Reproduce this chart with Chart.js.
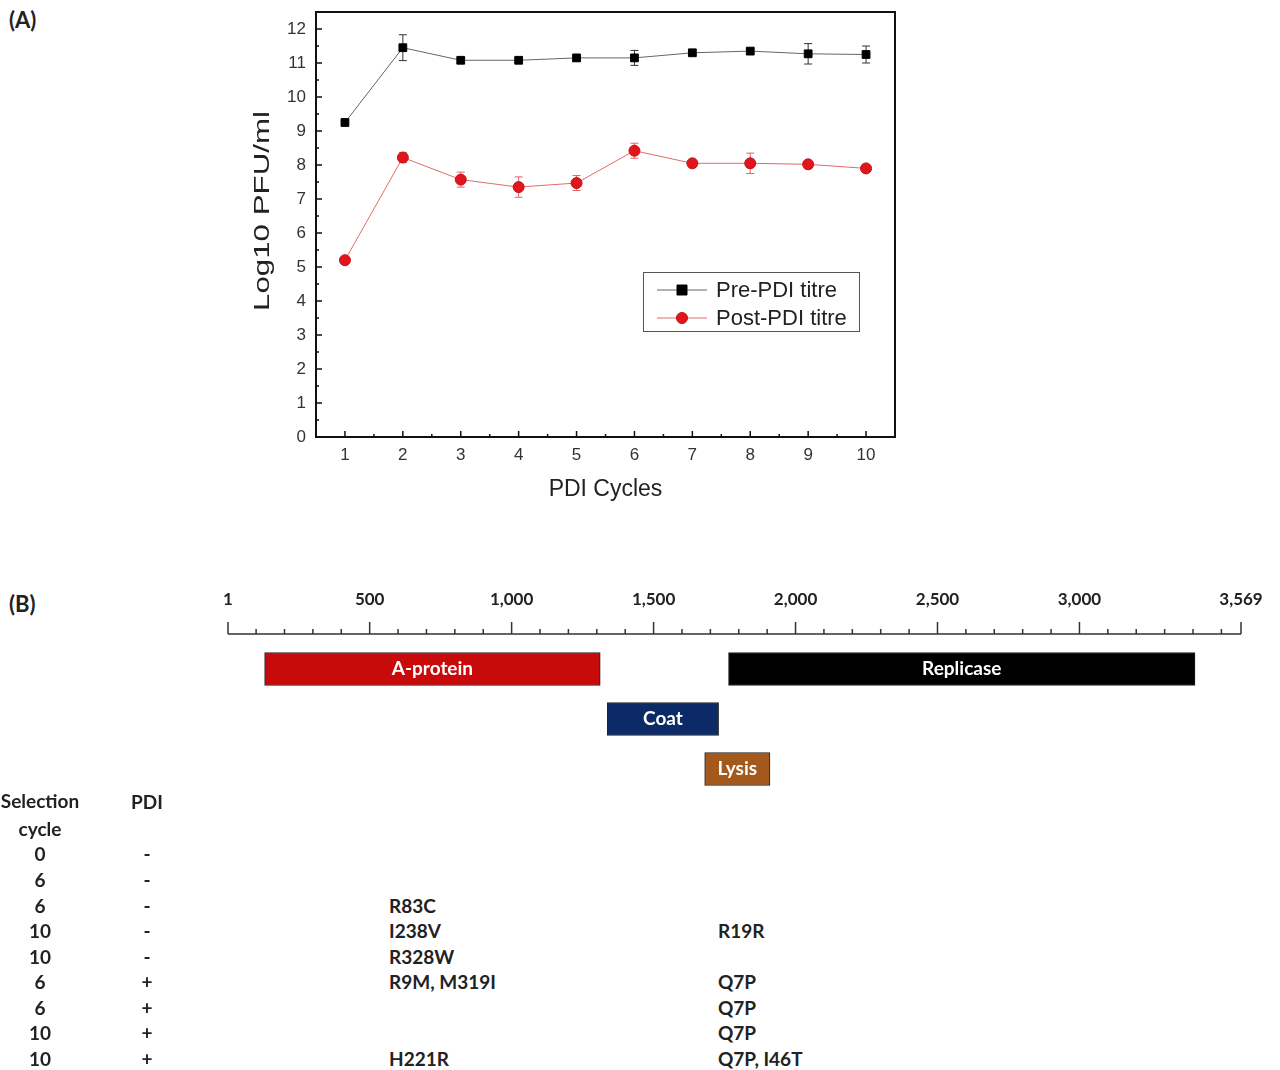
<!DOCTYPE html>
<html>
<head>
<meta charset="utf-8">
<script src="https://cdn.jsdelivr.net/npm/chart.js@4/dist/chart.umd.min.js"></script>
<style>
  body { margin: 0; background: #fff; }
  #page { position: relative; width: 1280px; height: 1070px; overflow: hidden; font-family: Lato, sans-serif; }
  canvas { position: absolute; left: 0; }
  .lbl { position: absolute; font-weight: bold; color: #222; white-space: nowrap; }
  .cell { position: absolute; font-weight: bold; font-size: 19px; color: #222; white-space: nowrap; transform: translateY(-50%); }
  .ctr { transform: translate(-50%, -50%); }
</style>
</head>
<body>
<div id="page">
  <div class="lbl" style="left:9px; top:6px; font-size:22px;">(A)</div>
  <div class="lbl" style="left:9px; top:590px; font-size:22px;">(B)</div>
  <canvas id="chartA" width="1280" height="530" style="top:0;"></canvas>
  <canvas id="chartB" width="1280" height="230" style="top:570px;"></canvas>
  <div id="table"></div>
</div>
<script>
// ---- panel A data ----
const cycles = [1, 2, 3, 4, 5, 6, 7, 8, 9, 10];
const preTitre = [9.25, 11.45, 11.08, 11.08, 11.15, 11.15, 11.3, 11.35, 11.27, 11.25];
const preErr = [0.05, 0.38, 0.08, 0.06, 0.1, 0.22, 0.08, 0.08, 0.3, 0.25];
const postTitre = [5.2, 8.22, 7.57, 7.35, 7.47, 8.42, 8.05, 8.05, 8.02, 7.9];
const postErr = [0.1, 0.15, 0.22, 0.3, 0.22, 0.22, 0.08, 0.3, 0.05, 0.08];
const yTicks = [0, 1, 2, 3, 4, 5, 6, 7, 8, 9, 10, 11, 12];
const yTitle = 'Log10 PFU/ml';

// ---- panel B data ----
const geneNames = ['A-protein', 'Coat', 'Lysis', 'Replicase'];
const geneStart = [130, 1337, 1680, 1764];
const geneEnd = [1312, 1729, 1910, 3407];
const geneRow = [0, 1, 2, 0];
const geneColors = ['#c80a0a', '#0b2a66', '#a3581c', '#000000'];
const rulerTicks = [1, 100, 200, 300, 400, 500, 600, 700, 800, 900, 1000, 1100, 1200, 1300, 1400, 1500,
  1600, 1700, 1800, 1900, 2000, 2100, 2200, 2300, 2400, 2500, 2600, 2700, 2800, 2900, 3000,
  3100, 3200, 3300, 3400, 3500, 3569];
const rulerLabelled = [1, 500, 1000, 1500, 2000, 2500, 3000, 3569];

// ---- table data ----
const selCycle = ['0', '6', '6', '10', '10', '6', '6', '10', '10'];
const pdiSign = ['-', '-', '-', '-', '-', '+', '+', '+', '+'];
const aProteinMut = ['', '', 'R83C', 'I238V', 'R328W', 'R9M, M319I', '', '', 'H221R'];
const replicaseMut = ['', '', '', 'R19R', '', 'Q7P', 'Q7P', 'Q7P', 'Q7P, I46T'];

const errs = [preErr, postErr];
const arial = '"Liberation Sans", Arial, sans-serif';

// frame, inward ticks, error bars, y title and legend for panel A
const panelAPlugin = {
  id: 'panelA',
  beforeDatasetsDraw(chart) {
    const ctx = chart.ctx;
    const xs = chart.scales.x, ys = chart.scales.y;
    chart.data.datasets.forEach((ds, i) => {
      ctx.save();
      ctx.strokeStyle = ds.errColor;
      ctx.lineWidth = 1;
      ds.data.forEach((pt, j) => {
        const e = errs[i][j];
        const px = xs.getPixelForValue(pt.x);
        const top = ys.getPixelForValue(pt.y + e), bot = ys.getPixelForValue(pt.y - e);
        ctx.beginPath();
        ctx.moveTo(px, top); ctx.lineTo(px, bot);
        ctx.moveTo(px - 4, top); ctx.lineTo(px + 4, top);
        ctx.moveTo(px - 4, bot); ctx.lineTo(px + 4, bot);
        ctx.stroke();
      });
      ctx.restore();
    });
  },
  afterDraw(chart) {
    const ctx = chart.ctx;
    const a = chart.chartArea;
    const xs = chart.scales.x, ys = chart.scales.y;
    ctx.save();
    ctx.strokeStyle = '#111';
    ctx.lineWidth = 2;
    ctx.strokeRect(a.left, a.top, a.right - a.left, a.bottom - a.top);
    ctx.lineWidth = 1.5;
    ctx.beginPath();
    yTicks.forEach(t => {
      const py = ys.getPixelForValue(t);
      ctx.moveTo(a.left, py); ctx.lineTo(a.left + 6, py);
      if (t < 12) {
        const pm = ys.getPixelForValue(t + 0.5);
        ctx.moveTo(a.left, pm); ctx.lineTo(a.left + 3, pm);
      }
    });
    cycles.forEach(c => {
      const px = xs.getPixelForValue(c);
      ctx.moveTo(px, a.bottom); ctx.lineTo(px, a.bottom - 6);
      if (c < 10) {
        const pm = xs.getPixelForValue(c + 0.5);
        ctx.moveTo(pm, a.bottom); ctx.lineTo(pm, a.bottom - 3);
      }
    });
    ctx.stroke();

    // y axis title, slightly stretched like the original
    ctx.save();
    ctx.translate(a.left - 53, 211);
    ctx.rotate(-Math.PI / 2);
    ctx.font = '22px ' + arial;
    const w = ctx.measureText(yTitle).width;
    ctx.scale(200 / w, 1);
    ctx.fillStyle = '#222';
    ctx.textAlign = 'center';
    ctx.textBaseline = 'middle';
    ctx.fillText(yTitle, 0, 0);
    ctx.restore();

    // legend box
    const lx = a.right - 252, ly = a.top + 260, lw = 216, lh = 59;
    ctx.fillStyle = '#fff';
    ctx.fillRect(lx, ly, lw, lh);
    ctx.strokeStyle = '#555';
    ctx.lineWidth = 1;
    ctx.strokeRect(lx + 0.5, ly + 0.5, lw, lh);
    chart.data.datasets.forEach((ds, i) => {
      const yy = ly + 18 + i * 28;
      ctx.strokeStyle = ds.borderColor;
      ctx.lineWidth = 1;
      ctx.beginPath();
      ctx.moveTo(lx + 14, yy); ctx.lineTo(lx + 64, yy);
      ctx.stroke();
      ctx.fillStyle = ds.pointBackgroundColor;
      ctx.strokeStyle = ds.pointBorderColor;
      ctx.beginPath();
      if (ds.pointStyle === 'rect') {
        ctx.rect(lx + 34, yy - 5, 10, 10);
      } else {
        ctx.arc(lx + 39, yy, 5.5, 0, Math.PI * 2);
      }
      ctx.fill(); ctx.stroke();
      ctx.fillStyle = '#222';
      ctx.font = '22px ' + arial;
      ctx.textBaseline = 'middle';
      ctx.fillText(ds.label, lx + 73, yy + 1);
    });
    ctx.restore();
  }
};

new Chart(document.getElementById('chartA'), {
  type: 'line',
  data: {
    datasets: [
      {
        label: 'Pre-PDI titre',
        data: preTitre.map((v, i) => ({ x: cycles[i], y: v })),
        borderColor: '#666',
        borderWidth: 1,
        pointStyle: 'rect',
        pointRadius: 5.5,
        pointBackgroundColor: '#000',
        pointBorderColor: '#000',
        pointBorderWidth: 1,
        errColor: '#333'
      },
      {
        label: 'Post-PDI titre',
        data: postTitre.map((v, i) => ({ x: cycles[i], y: v })),
        borderColor: '#e56a6a',
        borderWidth: 1,
        pointStyle: 'circle',
        pointRadius: 5.5,
        pointBackgroundColor: '#e0161c',
        pointBorderColor: '#c41016',
        pointBorderWidth: 1,
        errColor: '#e06666'
      }
    ]
  },
  options: {
    responsive: false,
    animation: false,
    layout: { padding: { left: 230, right: 385, top: 12, bottom: 23 } },
    plugins: { legend: { display: false }, tooltip: { enabled: false } },
    scales: {
      x: {
        type: 'linear',
        min: 0.5,
        max: 10.5,
        afterBuildTicks: s => { s.ticks = cycles.map(v => ({ value: v })); },
        afterFit: s => { s.height = 70; s.paddingLeft = 0; s.paddingRight = 0; },
        grid: { display: false, drawTicks: false },
        border: { display: false },
        ticks: { padding: 8, color: '#333', font: { family: arial, size: 17 } },
        title: { display: true, text: 'PDI Cycles', color: '#222', padding: { top: 0, bottom: 4 },
          font: { family: arial, size: 23 } }
      },
      y: {
        min: 0,
        max: 12.5,
        afterBuildTicks: s => { s.ticks = yTicks.map(v => ({ value: v })); },
        afterFit: s => { s.width = 86; s.paddingTop = 0; s.paddingBottom = 0; },
        grid: { display: false, drawTicks: false },
        border: { display: false },
        ticks: { padding: 10, color: '#333', font: { family: arial, size: 17 } }
      }
    }
  },
  plugins: [panelAPlugin]
});

// ---- panel B: genome map ----
const rowLabels = ['row0', 'row1', 'row2'];
const geneDatasets = geneNames.map((name, i) => ({
  label: name,
  data: rowLabels.map((r, k) => (k === geneRow[i] ? [geneStart[i], geneEnd[i]] : null)),
  backgroundColor: geneColors[i],
  borderColor: '#222',
  borderWidth: 1,
  borderSkipped: false,
  barThickness: 33,
  grouped: false
}));

const genomePlugin = {
  id: 'genome',
  afterDatasetsDraw(chart) {
    const ctx = chart.ctx;
    ctx.save();
    ctx.fillStyle = '#fff';
    ctx.font = 'bold 19px Lato, sans-serif';
    ctx.textAlign = 'center';
    ctx.textBaseline = 'middle';
    chart.data.datasets.forEach((ds, i) => {
      chart.getDatasetMeta(i).data.forEach((el, k) => {
        if (!ds.data[k]) return;
        ctx.fillText(ds.label, (el.x + el.base) / 2, el.y);
      });
    });
    ctx.restore();
  },
  afterDraw(chart) {
    const ctx = chart.ctx;
    const xs = chart.scales.x;
    const y0 = chart.chartArea.top - 10;
    ctx.save();
    ctx.strokeStyle = '#333';
    ctx.lineWidth = 1.5;
    ctx.beginPath();
    ctx.moveTo(xs.getPixelForValue(1), y0);
    ctx.lineTo(xs.getPixelForValue(3569), y0);
    rulerTicks.forEach(t => {
      const px = xs.getPixelForValue(t);
      const len = rulerLabelled.includes(t) ? 12 : 5;
      ctx.moveTo(px, y0); ctx.lineTo(px, y0 - len);
    });
    ctx.stroke();
    ctx.restore();
  }
};

new Chart(document.getElementById('chartB'), {
  type: 'bar',
  data: { labels: rowLabels, datasets: geneDatasets },
  options: {
    responsive: false,
    animation: false,
    indexAxis: 'y',
    layout: { padding: { left: 228, right: 39, top: 14, bottom: 6 } },
    plugins: { legend: { display: false }, tooltip: { enabled: false } },
    scales: {
      x: {
        type: 'linear',
        position: 'top',
        min: 1,
        max: 3569,
        afterBuildTicks: s => { s.ticks = rulerTicks.map(v => ({ value: v })); },
        afterFit: s => { s.height = 60; s.paddingLeft = 0; s.paddingRight = 0; },
        grid: { display: false, drawTicks: false },
        border: { display: false },
        ticks: {
          autoSkip: false,
          maxRotation: 0,
          padding: 34,
          color: '#222',
          font: { family: 'Lato', size: 17, weight: 'bold' },
          callback: v => (rulerLabelled.includes(v) ? v.toLocaleString('en-US') : '')
        }
      },
      y: { display: false }
    }
  },
  plugins: [genomePlugin]
});

// ---- mutation table ----
const table = document.getElementById('table');
function addCell(text, x, y, centred) {
  const d = document.createElement('div');
  d.className = centred ? 'cell ctr' : 'cell';
  d.style.left = x + 'px';
  d.style.top = y + 'px';
  d.textContent = text;
  table.appendChild(d);
}
addCell('Selection', 40, 800, true);
addCell('cycle', 40, 828, true);
addCell('PDI', 147, 801, true);
const rowY = [853, 879, 905, 930, 956, 981, 1007, 1032, 1058];
rowY.forEach((y, i) => {
  addCell(selCycle[i], 40, y, true);
  addCell(pdiSign[i], 147, y, true);
  if (aProteinMut[i]) addCell(aProteinMut[i], 389, y, false);
  if (replicaseMut[i]) addCell(replicaseMut[i], 718, y, false);
});
</script>
</body>
</html>
